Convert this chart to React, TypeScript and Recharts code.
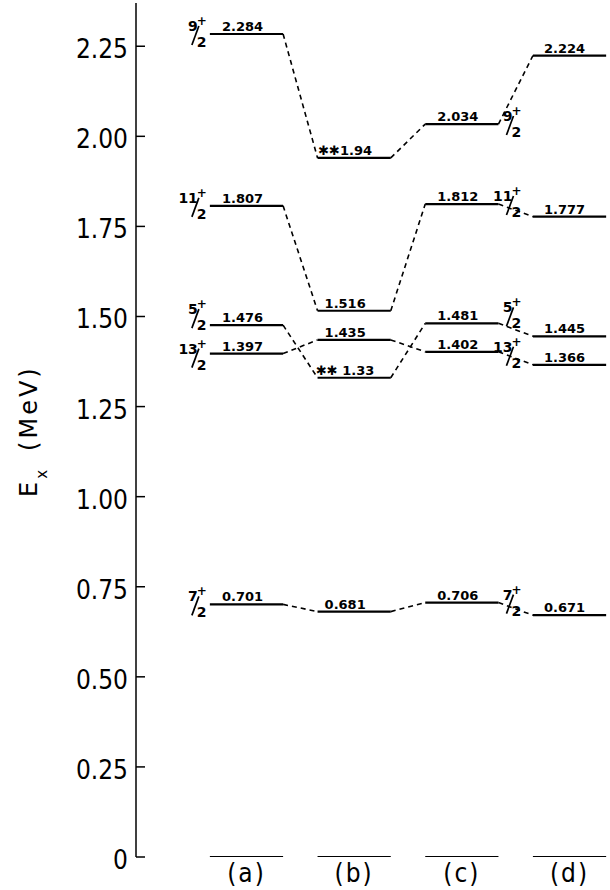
import React from 'react';
import { ComposedChart, Line, XAxis, YAxis } from 'recharts';

const columns = ['(a)', '(b)', '(c)', '(d)'];
const energyTicks = [0, 0.25, 0.5, 0.75, 1.0, 1.25, 1.5, 1.75, 2.0, 2.25];

// spin numerators, all levels are n/2 +
const spinNumerators = ['9', '11', '5', '13', '7'];

// excitation energies (MeV) for columns a..d
const energies9 = [2.284, 1.94, 2.034, 2.224];
const energies11 = [1.807, 1.516, 1.812, 1.777];
const energies5 = [1.476, 1.33, 1.481, 1.445];
const energies13 = [1.397, 1.435, 1.402, 1.366];
const energies7 = [0.701, 0.681, 0.706, 0.671];
const energiesGround = [0, 0, 0, 0];

const labels9 = ['2.284', '✱✱1.94', '2.034', '2.224'];
const labels11 = ['1.807', '1.516', '1.812', '1.777'];
const labels5 = ['1.476', '✱✱ 1.33', '1.481', '1.445'];
const labels13 = ['1.397', '1.435', '1.402', '1.366'];
const labels7 = ['0.701', '0.681', '0.706', '0.671'];
const labelsGround = ['', '', '', ''];

const bands = [
  { num: spinNumerators[0], e: energies9, text: labels9 },
  { num: spinNumerators[1], e: energies11, text: labels11 },
  { num: spinNumerators[2], e: energies5, text: labels5 },
  { num: spinNumerators[3], e: energies13, text: labels13 },
  { num: spinNumerators[4], e: energies7, text: labels7 },
  { num: '', e: energiesGround, text: labelsGround },
];

const HALF = 0.34;
const NARROW = '"Liberation Sans Narrow", "DejaVu Sans Condensed", sans-serif';
// small nudges so the printed labels sit like in the figure
const textShift = [-4, -9, -4, -5];
const spinShift: Record<string, number> = { '5': -8, '13': 3 };

type Seg = { id: string; num: string; col: number; text: string; data: any[] };

const segments: Seg[] = [];
const connectors: { id: string; data: any[] }[] = [];
bands.forEach((b, bi) => {
  b.e.forEach((e, ci) => {
    segments.push({
      id: `lv-${bi}-${ci}`,
      num: b.num,
      col: ci,
      text: b.text[ci],
      data: [
        { x: ci - HALF, e },
        { x: ci, e },
        { x: ci + HALF, e },
      ],
    });
    if (b.num && ci < b.e.length - 1) {
      connectors.push({
        id: `cn-${bi}-${ci}`,
        data: [
          { x: ci + HALF, e },
          { x: ci + 1 - HALF, e: b.e[ci + 1] },
        ],
      });
    }
  });
});

const SpinLabel = ({ right, y, num }: { right: number; y: number; num: string }) => {
  const yy = y + (spinShift[num] || 0);
  return (
    <g fontFamily="DejaVu Sans" fontWeight="bold" fill="#000">
      <text x={right - 8} y={yy - 3} textAnchor="end" fontSize={14}>{num}</text>
      <line x1={right - 14} y1={yy + 11} x2={right - 7} y2={yy - 8} stroke="#000" strokeWidth={1.7} />
      <text x={right - 9} y={yy + 13} fontSize={14}>2</text>
      <text x={right + 1} y={yy - 9} textAnchor="end" fontSize={12}>+</text>
    </g>
  );
};

const levelDot = (seg: Seg) => (props: any) => {
  const { cx, cy, index } = props;
  const k = `${seg.id}-${index}`;
  if (index === 1 && seg.text) {
    return (
      <text key={k} x={cx + textShift[seg.col]} y={cy - 3} textAnchor="middle" fontFamily="DejaVu Sans" fontWeight="bold" fontSize={13} fill="#000">
        {seg.text}
      </text>
    );
  }
  if (index === 0 && seg.col === 0 && seg.num) {
    return <SpinLabel key={k} right={cx - 4} y={cy} num={seg.num} />;
  }
  if (index === 2 && seg.col === 2 && seg.num) {
    return <SpinLabel key={k} right={cx + 22} y={cy} num={seg.num} />;
  }
  return <g key={k} />;
};

const YTick = (props: any) => {
  const { x, y, payload } = props;
  const v = payload.value;
  return (
    <g>
      <line x1={x} x2={x + 9} y1={y} y2={y} stroke="#000" strokeWidth={1.5} />
      <text x={x - 8} y={y + 12} textAnchor="end" fontFamily={NARROW} fontSize={26} fill="#000">
        {v === 0 ? '0' : v.toFixed(2)}
      </text>
    </g>
  );
};

const XTick = (props: any) => {
  const { x, payload } = props;
  return (
    <text x={x} y={882} textAnchor="middle" fontFamily={NARROW} fontSize={26} letterSpacing={2} fill="#000">
      {columns[payload.value]}
    </text>
  );
};

const YTitle = () => (
  <text transform="rotate(-90, 37, 497)" x={37} y={497} fontFamily="DejaVu Sans" fontSize={24} fill="#000" letterSpacing={3}>
    E
    <tspan fontSize={15} dy={10}>x</tspan>
    <tspan dy={-10} dx={16}>(MeV)</tspan>
  </text>
);

export default function App() {
  return (
    <div style={{ width: 610, height: 890, background: '#fff' }}>
      <style>{'body{margin:0;overflow:hidden}'}</style>
      <ComposedChart width={610} height={890} margin={{ top: 3, right: 3, bottom: 0, left: 0 }}>
        <XAxis
          type="number"
          dataKey="x"
          domain={[-1.026, 3.348]}
          ticks={[0, 1, 2, 3]}
          interval={0}
          allowDataOverflow
          axisLine={false}
          tickLine={false}
          height={33}
          tick={<XTick />}
        />
        <YAxis
          type="number"
          dataKey="e"
          domain={[0, 2.37]}
          ticks={energyTicks}
          interval={0}
          allowDataOverflow
          width={136}
          axisLine={{ stroke: '#000', strokeWidth: 1.5 }}
          tickLine={false}
          tickSize={0}
          tickMargin={0}
          tick={<YTick />}
          label={<YTitle />}
        />
        {connectors.map((c) => (
          <Line
            key={c.id}
            data={c.data}
            dataKey="e"
            type="linear"
            stroke="#000"
            strokeWidth={1.6}
            strokeDasharray="5 4"
            dot={false}
            activeDot={false}
            isAnimationActive={false}
          />
        ))}
        {segments.map((s) => (
          <Line
            key={s.id}
            data={s.data}
            dataKey="e"
            type="linear"
            stroke="#000"
            strokeWidth={2.2}
            dot={levelDot(s)}
            activeDot={false}
            isAnimationActive={false}
          />
        ))}
      </ComposedChart>
    </div>
  );
}
